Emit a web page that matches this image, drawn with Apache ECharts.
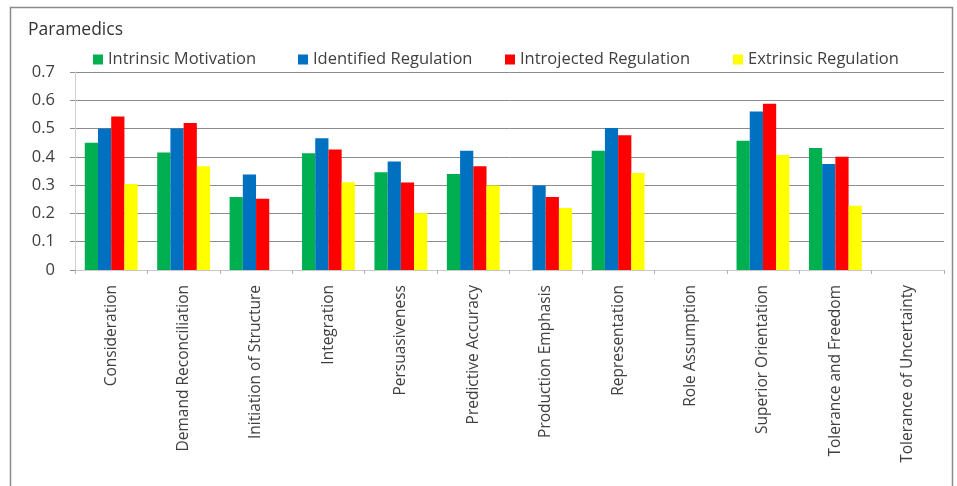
<!DOCTYPE html>
<html>
<head>
<meta charset="utf-8">
<script src="https://cdn.jsdelivr.net/npm/echarts@6/dist/echarts.min.js"></script>
<style>
  html, body { margin: 0; padding: 0; background: #ffffff; }
  #chart { width: 957px; height: 486px; }
</style>
</head>
<body>
<div id="chart"></div>
<script>
// Leadership dimensions on the category axis
const categories = [
  'Consideration', 'Demand Reconciliation', 'Initiation of Structure', 'Integration',
  'Persuasiveness', 'Predictive Accuracy', 'Production Emphasis', 'Representation',
  'Role Assumption', 'Superior Orientation', 'Tolerance and Freedom', 'Tolerance of Uncertainty'
];

// Motivation types shown in the legend
const seriesNames = ['Intrinsic Motivation', 'Identified Regulation', 'Introjected Regulation', 'Extrinsic Regulation'];

// Correlations per motivation type (null = no bar)
const intrinsicMotivation  = [0.45, 0.415, 0.258, 0.413, 0.346, 0.339, null,  0.422, null, 0.457, 0.431, null];
const identifiedRegulation = [0.50, 0.50,  0.338, 0.466, 0.384, 0.422, 0.299, 0.502, null, 0.56,  0.375, null];
const introjectedRegulation= [0.543,0.52,  0.252, 0.426, 0.309, 0.367, 0.258, 0.476, null, 0.588, 0.40,  null];
const extrinsicRegulation  = [0.304,0.367, null,  0.31,  0.201, 0.299, 0.219, 0.343, null, 0.407, 0.227, null];

const yTicks = { min: 0, max: 0.7, step: 0.1 };

const FONT = 'Open Sans';
const TEXT_COLOR = '#404040';
const colors = ['#00b050', '#0070c0', '#ff0000', '#ffff00'];
const legendLeft = [88, 293, 500, 728];
const seriesData = [intrinsicMotivation, identifiedRegulation, introjectedRegulation, extrinsicRegulation];

const chart = echarts.init(document.getElementById('chart'), null, { renderer: 'canvas' });

chart.setOption({
  animation: false,
  backgroundColor: '#ffffff',
  textStyle: { fontFamily: FONT },
  title: {
    text: 'Paramedics',
    left: 23,
    top: 16,
    textStyle: { fontFamily: FONT, fontSize: 17.5, fontWeight: 'normal', color: '#333333' }
  },
  // one legend block per item so each entry sits at its own spot
  legend: seriesNames.map((name, i) => ({
    left: legendLeft[i],
    top: 46,
    itemWidth: 10,
    itemHeight: 10,
    icon: 'rect',
    selectedMode: false,
    textStyle: { fontFamily: FONT, fontSize: 16.5, color: TEXT_COLOR },
    data: [name]
  })),
  grid: { left: 75, right: 13, top: 72, bottom: 216, containLabel: false },
  xAxis: {
    type: 'category',
    data: categories,
    axisLine: { lineStyle: { color: '#c8c8c8', width: 1 } },
    axisTick: { show: true, length: 4, lineStyle: { color: '#b0b0b0' } },
    axisLabel: {
      rotate: 90,
      interval: 0,
      margin: 15,
      fontFamily: FONT,
      fontSize: 15.5,
      color: TEXT_COLOR
    }
  },
  yAxis: {
    type: 'value',
    min: yTicks.min,
    max: yTicks.max,
    interval: yTicks.step,
    axisLine: { show: true, lineStyle: { color: '#d0d0d0' } },
    axisTick: { show: true, length: 5, lineStyle: { color: '#909090' } },
    axisLabel: {
      margin: 20,
      fontFamily: FONT,
      fontSize: 16.5,
      color: TEXT_COLOR,
      formatter: v => (Math.round(v * 10) / 10).toString()
    },
    splitLine: { lineStyle: { color: '#8c8c8c', width: 1 } }
  },
  series: seriesNames.map((name, i) => ({
    name: name,
    type: 'bar',
    data: seriesData[i],
    barGap: '0%',
    barCategoryGap: '27%',
    itemStyle: { color: colors[i] },
    emphasis: { disabled: true }
  })),
  graphic: [{
    type: 'rect',
    shape: { x: 10.5, y: 7.5, width: 942, height: 490 },
    style: { fill: 'none', stroke: '#8a8a8a', lineWidth: 1.5 },
    silent: true,
    z: -1
  }]
});
</script>
</body>
</html>
